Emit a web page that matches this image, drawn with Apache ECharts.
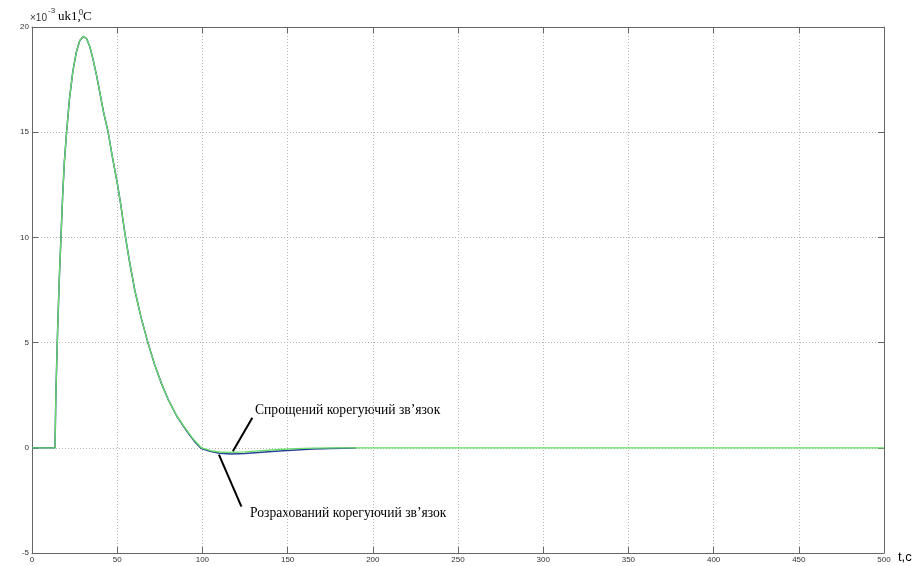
<!DOCTYPE html>
<html><head><meta charset="utf-8">
<script src="https://cdn.jsdelivr.net/npm/echarts@6/dist/echarts.min.js"></script>
<style>html,body{margin:0;padding:0;background:#fff}#c{width:922px;height:566px}</style>
</head><body><div id="c"></div>
<script>
// Data
const greenT = [0,13.5,14,15,16,17,18,19,20.3,22,24,26,28,30,32,34,36,38,40,42,44.7,47,50,52,54.5,57,60.3,64,68,72,76,80,85,90.6,95,99.4,105,110,117,125,135,145,155,165,180,500];
const greenV = [0,0,2.5,5.5,8,10,12,13.6,15,16.6,17.9,18.8,19.35,19.55,19.45,19.05,18.4,17.65,16.8,15.95,15,13.9,12.6,11.6,10.2,8.95,7.5,6.2,5,3.95,3.05,2.28,1.5,0.85,0.38,0,-0.14,-0.2,-0.22,-0.19,-0.13,-0.08,-0.04,-0.015,0,0];
const blueT = [0,13.5,14,15,16,17,18,19,20.3,22,24,26,28,30,32,34,36,38,40,42,44.7,47,50,52,54.5,57,60.3,64,68,72,76,80,85,90.6,95,99.4,105,110,117,125,135,145,155,165,175,190];
const blueV = [0,0,2.5,5.5,8,10,12,13.6,15,16.6,17.9,18.8,19.35,19.55,19.45,19.05,18.4,17.65,16.8,15.95,15,13.9,12.6,11.6,10.2,8.95,7.5,6.2,5,3.95,3.05,2.28,1.5,0.82,0.34,-0.04,-0.18,-0.26,-0.29,-0.27,-0.21,-0.15,-0.1,-0.06,-0.03,-0.01];
const xTicks = [0,50,100,150,200,250,300,350,400,450,500];
const yTicks = [-5,0,5,10,15,20];
const labelUpper = 'Спрощений корегуючий зв’язок';
const labelLower = 'Розрахований корегуючий зв’язок';
const pointerUpper = [[117.9,-0.16],[129.3,1.43]];
const pointerLower = [[109.7,-0.32],[122.9,-2.8]];

const zip = (a,b)=>a.map((v,i)=>[v,b[i]]);
const chart = echarts.init(document.getElementById('c'), null, {renderer:'canvas'});
const axisCommon = {
  type:'value',
  axisLine:{show:true,onZero:false,lineStyle:{color:'#666',width:1}},
  axisTick:{show:true,inside:true,length:6,lineStyle:{color:'#666'}},
};
chart.setOption({
  animation:false,
  backgroundColor:'#fff',
  grid:{left:32,right:38,top:27,bottom:13,containLabel:false},
  xAxis:[
    Object.assign({},axisCommon,{min:xTicks[0],max:xTicks[xTicks.length-1],interval:xTicks[1]-xTicks[0],position:'bottom',
      axisLabel:{show:true,margin:3,fontSize:8,color:'#333',fontFamily:'Liberation Sans',formatter:v=>String(v)},
      splitLine:{show:true,lineStyle:{color:'#b5b5b5',type:[1,2],width:1}}}),
    Object.assign({},axisCommon,{min:xTicks[0],max:xTicks[xTicks.length-1],interval:xTicks[1]-xTicks[0],position:'top',
      axisLabel:{show:false},splitLine:{show:false}})
  ],
  yAxis:[
    Object.assign({},axisCommon,{min:yTicks[0],max:yTicks[yTicks.length-1],interval:yTicks[1]-yTicks[0],position:'left',
      axisLabel:{show:true,margin:3,fontSize:8,color:'#333',fontFamily:'Liberation Sans'},
      splitLine:{show:true,lineStyle:{color:'#b5b5b5',type:[1,2],width:1}}}),
    Object.assign({},axisCommon,{min:yTicks[0],max:yTicks[yTicks.length-1],interval:yTicks[1]-yTicks[0],position:'right',
      axisLabel:{show:false},splitLine:{show:false}})
  ],
  series:[
    {type:'line',name:'blue',data:zip(blueT,blueV),symbol:'none',smooth:false,
      lineStyle:{color:'#2a3f9a',width:1.5},z:2},
    {type:'line',name:'green',data:zip(greenT,greenV),symbol:'none',smooth:false,
      lineStyle:{color:'#66dd66',width:1.3},z:3,
      markLine:{silent:true,symbol:['none','none'],label:{show:false},
        lineStyle:{color:'#000',width:2,type:'solid'},
        data:[
          [{coord:pointerUpper[0]},{coord:pointerUpper[1]}],
          [{coord:pointerLower[0]},{coord:pointerLower[1]}]
        ]}}
  ],
  graphic:[
    {type:'text',left:255,top:403,style:{text:labelUpper,font:'13.6px "Liberation Serif"',fill:'#000'}},
    {type:'text',left:250,top:506,style:{text:labelLower,font:'13.6px "Liberation Serif"',fill:'#000'}},
    {type:'text',left:30,top:13,style:{text:'×10',font:'10px "Liberation Sans"',fill:'#333'}},
    {type:'text',left:48,top:7,style:{text:'-3',font:'8px "Liberation Sans"',fill:'#333'}},
    {type:'text',left:58,top:10,style:{text:'uk1,',font:'13px "Liberation Serif"',fill:'#000'}},
    {type:'text',left:79,top:9,style:{text:'0',font:'8px "Liberation Serif"',fill:'#000'}},
    {type:'text',left:83,top:10,style:{text:'C',font:'13px "Liberation Serif"',fill:'#000'}},
    {type:'text',left:898,top:551,style:{text:'t,c',font:'13px "Liberation Sans"',fill:'#000'}}
  ]
});
</script></body></html>
